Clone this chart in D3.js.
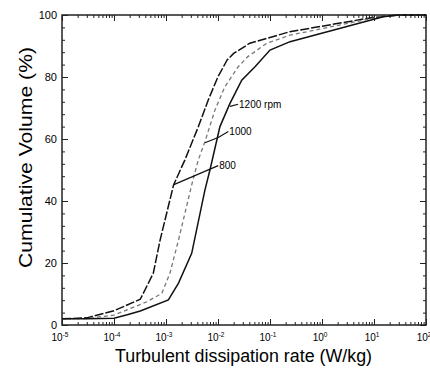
<!DOCTYPE html>
<html>
<head>
<meta charset="utf-8">
<script src="https://cdn.jsdelivr.net/npm/d3@7"></script>
<style>
  body { margin: 0; background: #fff; }
  svg { display: block; font-family: Arial, "Liberation Sans", Helvetica, sans-serif; }
  .axis path { display: none; }
  .axis line { stroke: #222; stroke-width: 1; }
</style>
</head>
<body>
<svg id="chart" width="430" height="369"></svg>
<script>
// cumulative volume (%) vs turbulent dissipation rate (W/kg)
const rate800 = [1e-5, 3e-5, 1e-4, 3.2e-4, 5.7e-4, 7.7e-4, 1.4e-3, 2.3e-3, 4.2e-3, 6.5e-3, 1.0e-2, 1.5e-2, 2.0e-2, 4.1e-2, 0.24, 9.5, 30, 100];
const vol800  = [2, 2.3, 4.6, 8.3, 16.7, 27.4, 45.2, 53.2, 64, 72.6, 80.1, 85.5, 87.6, 90.9, 94.6, 99.2, 100, 100];

const rate1000 = [1e-5, 3e-5, 1e-4, 4.3e-4, 8.3e-4, 1.19e-3, 1.74e-3, 3.12e-3, 4.17e-3, 5.6e-3, 8.75e-3, 1.36e-2, 2.45e-2, 3.7e-2, 8.7e-2, 0.243, 12, 30, 100];
const vol1000  = [2, 2.1, 3.2, 7.5, 10.2, 16.7, 27.4, 45.2, 53.2, 59.1, 69.4, 76.9, 83.3, 86.5, 90.9, 93.5, 99.3, 100, 100];

const rate1200 = [1e-5, 3e-5, 1e-4, 1.8e-4, 3.2e-4, 1.11e-3, 1.74e-3, 3.12e-3, 5.6e-3, 7.0e-3, 1.09e-2, 1.7e-2, 2.86e-2, 5.15e-2, 0.1, 0.243, 15, 30, 100];
const vol1200  = [2, 2, 2.2, 3.3, 4.5, 8.1, 13.5, 23.1, 43.5, 50, 64, 71.5, 79, 83.3, 88.7, 91.4, 99.4, 100, 100];

const xTickExp = [-5, -4, -3, -2, -1, 0, 1, 2];
const yTicks = [0, 20, 40, 60, 80, 100];

// curve labels: leader points in data units, text starts at last point
const notes = [
  { text: "1200 rpm", pts: [[0.017, 70.5], [0.0243, 71.2]] },
  { text: "1000", pts: [[5.6e-3, 58.8], [0.0101, 60.5], [0.0158, 62.4]] },
  { text: "800", pts: [[1.38e-3, 45.2], [0.0101, 51.4]] }
];

const W = 430, H = 369;
const margin = { top: 15, right: 4, bottom: 44, left: 62 };
const iw = W - margin.left - margin.right;
const ih = H - margin.top - margin.bottom;

const svg = d3.select("#chart");
const g = svg.append("g").attr("transform", `translate(${margin.left},${margin.top})`);

const x = d3.scaleLog().domain([1e-5, 100]).range([0, iw]);
const y = d3.scaleLinear().domain([0, 100]).range([ih, 0]);

const majorX = xTickExp.map(e => Math.pow(10, e));
const minorX = [];
xTickExp.slice(0, -1).forEach(e => { for (let k = 2; k <= 9; k++) minorX.push(k * Math.pow(10, e)); });
const minorY = d3.range(0, 101, 4).filter(v => v % 20 !== 0);

// ticks on all four sides, pointing inward
function tickSet(axisFn, scale, vals, len, tr) {
  g.append("g").attr("class", "axis").attr("transform", tr)
    .call(axisFn(scale).tickValues(vals).tickSize(len).tickFormat(""));
}
tickSet(d3.axisBottom, x, majorX, -6, `translate(0,${ih})`);
tickSet(d3.axisBottom, x, minorX, -3, `translate(0,${ih})`);
tickSet(d3.axisTop, x, majorX, -6, "translate(0,0)");
tickSet(d3.axisTop, x, minorX, -3, "translate(0,0)");
tickSet(d3.axisLeft, y, yTicks, -6, "translate(0,0)");
tickSet(d3.axisLeft, y, minorY, -3, "translate(0,0)");
tickSet(d3.axisRight, y, yTicks, -6, `translate(${iw},0)`);
tickSet(d3.axisRight, y, minorY, -3, `translate(${iw},0)`);

g.append("rect").attr("width", iw).attr("height", ih)
  .attr("fill", "none").attr("stroke", "#222").attr("stroke-width", 1.5);

// y tick labels
g.selectAll(".ylab").data(yTicks).enter().append("text")
  .attr("x", -5).attr("y", d => y(d)).attr("dy", "0.36em")
  .attr("text-anchor", "end").attr("font-size", 11).text(d => d);

// x tick labels 10^n
const xl = g.selectAll(".xlab").data(xTickExp).enter().append("text")
  .attr("x", d => x(Math.pow(10, d)) - 2).attr("y", ih + 16)
  .attr("text-anchor", "middle").attr("font-size", 10);
xl.append("tspan").text("10");
xl.append("tspan").attr("dy", -4).attr("font-size", 6.5).text(d => d);

// curves
const line = d3.line().x(d => x(d[0])).y(d => y(d[1]));
const series = [
  { r: rate800, v: vol800, color: "#111", dash: "9,2", w: 1.5 },
  { r: rate1000, v: vol1000, color: "#777", dash: "4,3", w: 1.3 },
  { r: rate1200, v: vol1200, color: "#111", dash: null, w: 1.5 }
];
series.forEach(s => {
  g.append("path").datum(d3.zip(s.r, s.v))
    .attr("fill", "none").attr("stroke", s.color).attr("stroke-width", s.w)
    .attr("stroke-dasharray", s.dash).attr("d", line);
});

// leaders + labels
notes.forEach(n => {
  g.append("path").datum(n.pts).attr("fill", "none")
    .attr("stroke", "#111").attr("stroke-width", 1.2).attr("d", line);
  const last = n.pts[n.pts.length - 1];
  g.append("text").attr("x", x(last[0]) + 1).attr("y", y(last[1]))
    .attr("dy", "0.36em").attr("font-size", 10).text(n.text);
});

// axis titles
svg.append("text").attr("x", 243.5).attr("y", H - 7)
  .attr("text-anchor", "middle").attr("font-size", 17.5)
  .attr("textLength", 257).attr("lengthAdjust", "spacingAndGlyphs")
  .text("Turbulent dissipation rate (W/kg)");
svg.append("text")
  .attr("transform", "translate(32,157.5) rotate(-90)")
  .attr("text-anchor", "middle").attr("font-size", 19)
  .attr("textLength", 221).attr("lengthAdjust", "spacingAndGlyphs")
  .text("Cumulative Volume (%)");
</script>
</body>
</html>
